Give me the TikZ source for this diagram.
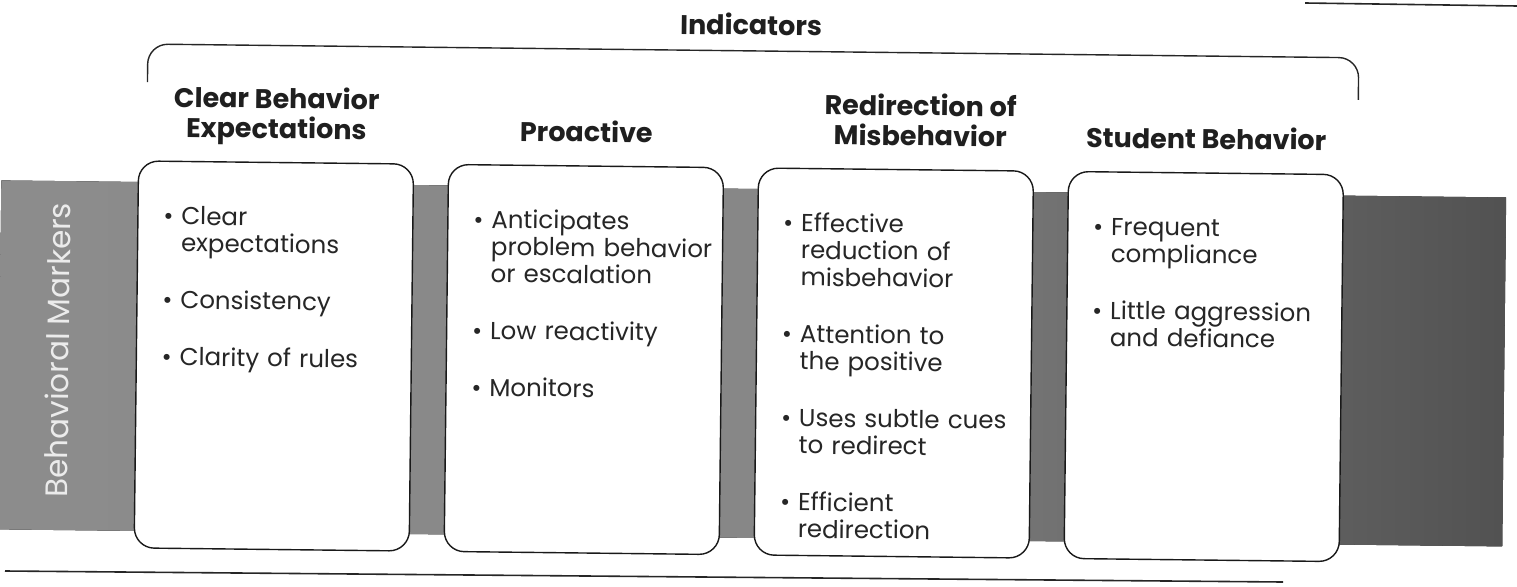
\documentclass[tikz,border=0pt]{standalone}
\usepackage{fontspec}
\setmainfont{Poppins}
\usetikzlibrary{positioning}

\tikzset{
  card/.style={draw=black!90, line width=1.4pt, rounded corners=20pt, fill=white,
    minimum width=275pt, minimum height=387pt, inner sep=0pt},
  head/.style={font=\bfseries\fontsize{27}{30}\selectfont, text=black!88, align=center,
    inner sep=0pt, execute at end node={\vphantom{p}}},
  items/.style={font=\fontsize{24.5}{27}\selectfont, text=black!85, text width=250pt,
    align=left, inner sep=0pt, execute at begin node={\setlength{\parskip}{30pt}}},
  scanrule/.style={line width=1.6pt, black!85},
}
\newcommand{\bitem}[1]{\noindent\hangindent=18pt\hangafter=1\makebox[18pt][l]{\textbullet}#1\par}

\begin{document}
\begin{tikzpicture}[x=1pt, y=-1pt]
\useasboundingbox (0,0) rectangle (1517,586);
% page rules of the scan
\draw[scanrule] (1305,3) -- (1517,6);
\draw[scanrule] (5,571) -- (1283,582);
\begin{scope}[rotate around={-0.65:(760,300)}, transform shape]
% grey band
\fill[left color=black!45, right color=black!68, middle color=black!47] (0,189) rectangle (1505,538);
\node[font=\fontsize{31}{31}\selectfont, text=black!8, rotate=90] (bmark) at (58,358) {Behavioral Markers};
% cards
\foreach \i/\x in {1/274.5, 2/584.5, 3/894.5, 4/1204.5}
  \node[card] (cbox\i) at (\x,361.5) {};
% headings
\node[head, above=16pt of cbox1] (chead1) {Clear Behavior\\Expectations};
\node[head, above=16pt of cbox2] (chead2) {Proactive};
\node[head, above=16pt of cbox3, xshift=24pt] (chead3) {Redirection of\\Misbehavior};
\node[head, above=16pt of cbox4] (chead4) {Student Behavior};
% title with bracket
\node[head, anchor=base] (indic) at (748,35) {Indicators};
\draw[line width=1.4pt, black!85, rounded corners=20pt] (145,89) -- (145,51) -- (1356,51) -- (1356,93);
% lists
\node[items, anchor=base west] (clist1) at ([xshift=26pt, yshift=-64pt]cbox1.north west)
  {\bitem{Clear\newline expectations}\bitem{Consistency}\bitem{Clarity of rules}};
\node[items, anchor=base west] (clist2) at ([xshift=26pt, yshift=-64pt]cbox2.north west)
  {\bitem{Anticipates\newline problem behavior\newline or escalation}\bitem{Low reactivity}\bitem{Monitors}};
\node[items, anchor=base west] (clist3) at ([xshift=26pt, yshift=-64pt]cbox3.north west)
  {\bitem{Effective\newline reduction of\newline misbehavior}\bitem{Attention to\newline the positive}\bitem{Uses subtle cues\newline to redirect}\bitem{Efficient\newline redirection}};
\node[items, anchor=base west] (clist4) at ([xshift=26pt, yshift=-64pt]cbox4.north west)
  {\bitem{Frequent\newline compliance}\bitem{Little aggression\newline and defiance}};
\end{scope}
\end{tikzpicture}
\end{document}
